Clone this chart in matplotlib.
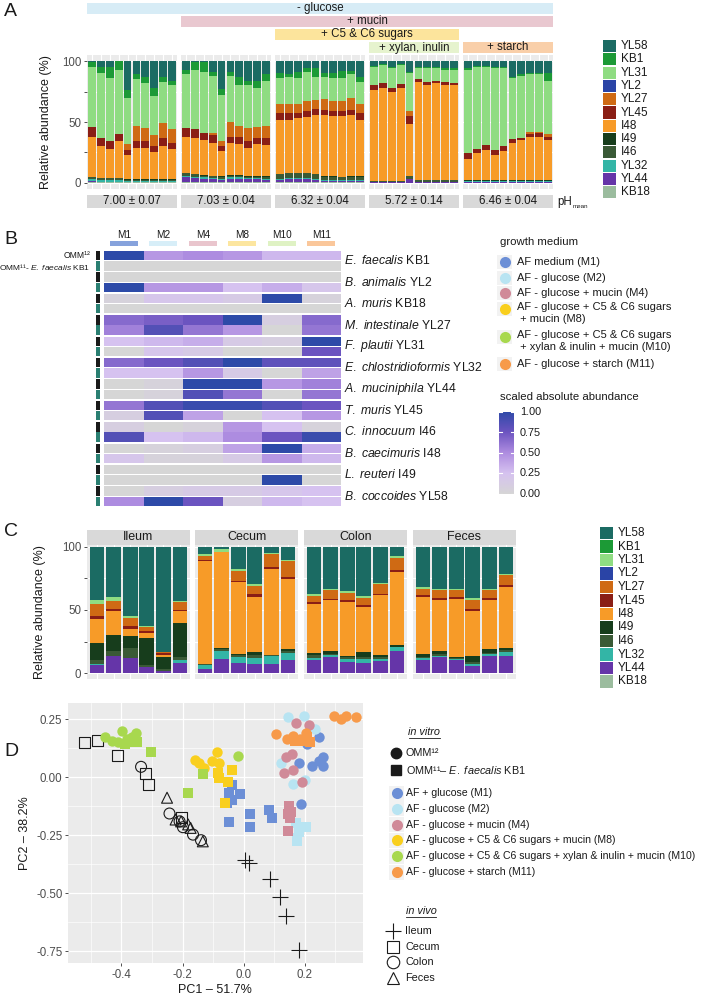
import numpy as np
import matplotlib
matplotlib.use('Agg')
import matplotlib.pyplot as plt
from matplotlib.patches import Rectangle
from matplotlib.colors import LinearSegmentedColormap

plt.rcParams['font.family'] = ['Liberation Sans', 'DejaVu Sans']
plt.rcParams['mathtext.fontset'] = 'custom'
plt.rcParams['mathtext.it'] = 'Liberation Sans:italic'
plt.rcParams['mathtext.rm'] = 'Liberation Sans'

# ---------------- data ----------------
species_colors = {
    'YL58': '#1B6B63', 'KB1': '#1C9A36', 'YL31': '#8FDC82', 'YL2': '#2A44A6',
    'YL27': '#CF6A14', 'YL45': '#8A1E15', 'I48': '#F79B28', 'I49': '#173D1C',
    'I46': '#3A5A36', 'YL32': '#33B5A6', 'YL44': '#6535A8', 'KB18': '#9BBC9E',
}
stack_order = ['KB18', 'YL44', 'YL32', 'I46', 'I49', 'I48', 'YL45', 'YL27',
               'YL2', 'YL31', 'KB1', 'YL58']
legend_order = stack_order[::-1]

# panel A: cumulative top (%) of each layer, 5 media x 10 replicates
A_KB18 = [0.5] * 30 + [0.3] * 20
A_YL44 = ([1.2, 1, 1, 1, 0.8, 0.8, 0.8, 0.8, 0.8, 0.8] +
          [4.5, 4, 3.5, 3, 2.5, 3.5, 3.5, 3, 3, 2.5] +
          [2, 3, 3, 3, 2.5, 1.5, 1.5, 1.5, 1.5, 1.5] +
          [0.5, 0.5, 0.5, 0.5, 3, 0.8, 0.8, 0.8, 0.8, 0.8] +
          [0.8] * 10)
A_YL32 = ([3, 2.5, 2.5, 2.5, 1.5, 1.5, 1.5, 1.5, 1.5, 1.5] +
          [5.5, 5, 4.5, 4, 3.5, 4.5, 4.5, 4, 4, 3.5] +
          [3.5, 4, 4, 4, 3.5, 2, 2, 2, 2, 2] +
          [1, 1, 1, 1, 3.5, 1, 1, 1, 1, 1] +
          [1.2] * 10)
A_I46 = ([4.5, 4, 4, 4, 2.5, 2.5, 2.5, 2.5, 2.5, 2.5] +
         [8, 7, 6, 5.5, 5, 6, 6, 5, 5, 5] +
         [7, 8, 8, 8, 7, 5, 5, 4.5, 5, 5] +
         [1.5, 1.5, 1.5, 1.5, 5.5, 2, 2, 2, 2, 2] +
         [1.8] * 10)
A_I49 = ([4.8, 4.3, 4.3, 4.3, 2.8, 2.8, 2.8, 2.8, 2.8, 2.8] +
         [8.3, 7.3, 6.3, 5.8, 5.3, 6.3, 6.3, 5.3, 5.3, 5.3] +
         [7.3, 8.3, 8.3, 8.3, 7.3, 5.3, 5.3, 4.8, 5.3, 5.3] +
         [1.8, 1.8, 1.8, 1.8, 5.8, 2.3, 2.3, 2.3, 2.3, 2.3] +
         [2.1] * 10)
A_I48 = ([38, 30, 28, 34, 23, 29, 29, 25, 30, 28] +
         [38, 37, 35, 33, 26, 33, 32, 29, 32, 31] +
         [52, 52, 53, 54.5, 56, 56, 55, 55, 56, 52] +
         [76, 78, 75, 78, 48, 83, 80, 82, 80, 80] +
         [20, 24.5, 27, 23, 26, 33, 35, 38, 38, 35])
A_YL45 = ([46, 37, 34, 40, 27, 34, 34, 30, 37, 33] +
          [45, 44, 41, 39, 30, 38, 38, 34, 37, 37] +
          [57, 57, 57, 59, 61, 60, 59, 59, 60, 57] +
          [80, 82, 78, 81, 55, 85, 83, 84, 83, 82] +
          [24.5, 28, 31, 27, 30, 36, 37, 40, 41, 38])
A_YL27 = ([46, 37, 34, 40, 32, 47, 45, 39, 49, 44] +
          [45, 44, 41, 41, 34, 50, 47, 45, 46, 47] +
          [65, 65, 65, 67, 68, 69, 67, 67, 69.5, 65] +
          [80, 82, 78, 81, 59, 85, 83, 84, 83, 82] +
          [24.5, 28, 31, 27, 30, 36, 37, 42, 42, 40])
A_YL2 = A_YL27
A_YL31 = ([95, 90, 86, 93, 70, 85, 82, 71, 83, 80] +
          [89, 93, 91, 88, 72, 88, 80, 80, 78, 84] +
          [86, 87, 86, 91, 87, 87, 86, 86, 89, 83] +
          [95, 97, 94, 97, 90, 94, 94, 94, 93, 93] +
          [93, 95, 95, 94, 94, 86, 88, 89, 89, 84])
A_KB1 = ([99, 95, 95, 100, 76, 89, 87, 78, 87, 84] +
         [93, 99, 99, 91, 77, 91, 87, 84, 84, 89] +
         [90, 89, 91, 94, 94, 90, 90, 92, 92, 87] +
         [96, 98, 95, 98, 91, 95, 95, 95, 94, 94] +
         [94, 96, 96, 95, 95, 87, 89, 90, 90, 90])
A_YL58 = [100] * 50
ph_labels = ['7.00 ± 0.07', '7.03 ± 0.04', '6.32 ± 0.04', '5.72 ± 0.14', '6.46 ± 0.04']

# panel C: cumulative tops, 4 sites x 6 mice
C_YL44 = [6.5, 13.5, 11.7, 4.7, 1.3, 8.3, 3.4, 11, 8.3, 7.3, 7.3, 10,
          10, 13, 9, 8.3, 9.6, 17.7, 10, 13, 10, 5.7, 13.5, 13.8]
C_YL32 = [7.3, 13.8, 12, 5, 1.5, 10, 6.5, 17.7, 13, 11.7, 13.5, 16,
          11.7, 14, 11, 11, 11, 20.3, 11.7, 13.5, 11, 7.3, 14.8, 17]
C_I46 = [10, 17.7, 20, 6.5, 3, 12.5, 7.3, 18.7, 14.3, 14.3, 14, 17.7,
         14.3, 15, 12.5, 12.5, 12.5, 21, 13, 14.8, 12.2, 9, 16, 18]
C_I49 = [24, 30, 29, 28, 13, 40, 7.5, 19.5, 15, 16.4, 14.5, 18.7,
         15.6, 17.7, 13.8, 16.4, 14.3, 22.6, 14.8, 17.7, 13, 13.5, 18.7, 20]
C_I48 = [43, 49, 35, 31.7, 14.3, 49, 89, 96, 72, 60.5, 82.6, 74.8,
         55, 57.7, 56.6, 52.5, 61.8, 80, 60.3, 58, 59, 49.4, 58, 68.3]
C_YL45 = [45, 51, 37.7, 33, 15.6, 50, 90, 96, 73, 62.3, 84.4, 76,
          56.6, 59, 58, 53.8, 62.9, 81.6, 61.6, 59.2, 60.3, 50.6, 59.2, 69.6]
C_YL27 = [55, 57, 44, 36.4, 16.6, 56, 93, 96, 80.5, 69, 94, 88.5,
          61, 65.5, 63.6, 59.7, 70.6, 91, 67, 65.7, 65.7, 57.7, 66.2, 77.4]
C_YL31 = [58, 60, 45.5, 37, 16.6, 57.5, 94, 98, 82.6, 70.6, 95, 90,
          62.3, 66.5, 65, 61, 71.7, 93, 68.6, 67, 67, 59.2, 67, 78.7]
C_KB18 = [0] * 24
C_YL2 = C_YL27
C_KB1 = C_YL31
C_YL58 = [100] * 24
sites = ['Ileum', 'Cecum', 'Colon', 'Feces']

# panel B: scaled absolute abundance, rows = species, cols = media
media = ['M1', 'M2', 'M4', 'M8', 'M10', 'M11']
species_labels = [r'$\mathit{E.\ faecalis}$ KB1', r'$\mathit{B.\ animalis}$ YL2',
                  r'$\mathit{A.\ muris}$ KB18', r'$\mathit{M.\ intestinale}$ YL27',
                  r'$\mathit{F.\ plautii}$ YL31', r'$\mathit{E.\ chlostridioformis}$ YL32',
                  r'$\mathit{A.\ muciniphila}$ YL44', r'$\mathit{T.\ muris}$ YL45',
                  r'$\mathit{C.\ innocuum}$ I46', r'$\mathit{B.\ caecimuris}$ I48',
                  r'$\mathit{L.\ reuteri}$ I49', r'$\mathit{B.\ coccoides}$ YL58']
omm12 = [[1.0, 0.45, 0.5, 0.45, 0.3, 0.3],
         [0, 0, 0, 0, 0, 0],
         [0.05, 0.2, 0.2, 0.15, 1.0, 0.05],
         [0.65, 0.7, 0.75, 1.0, 0.1, 0.65],
         [0.25, 0.3, 0.35, 0.15, 0.1, 1.0],
         [0.65, 0.75, 0.85, 1.0, 0.8, 0.8],
         [0.0, 0.05, 1.0, 1.0, 0.45, 0.55],
         [0.6, 0.85, 0.95, 0.95, 0.85, 0.75],
         [0.1, 0.0, 0.05, 0.45, 0.25, 0.05],
         [0.0, 0.05, 0.1, 0.4, 1.0, 0.35],
         [0, 0, 0, 0, 0, 0],
         [0.0, 0.1, 0.15, 0.15, 0.2, 0.25]]
omm11 = [[0, 0, 0, 0, 0, 0],
         [1.0, 0.45, 0.45, 0.25, 0.35, 0.2],
         [0, 0, 0, 0, 0, 0],
         [0.55, 0.85, 0.6, 0.45, 0.0, 0.6],
         [0.0, 0.2, 0.15, 0.0, 0.0, 0.75],
         [0.25, 0.25, 0.45, 0.15, 0.0, 0.4],
         [0.0, 0.05, 0.85, 0.6, 0.0, 0.6],
         [0.1, 0.85, 0.4, 0.0, 0.25, 0.45],
         [0.85, 0.25, 0.3, 0.5, 0.75, 0.95],
         [0.2, 0.05, 0.05, 0.15, 0.45, 0.3],
         [0, 0, 0, 0, 1.0, 0],
         [0.5, 1.0, 0.75, 0.1, 0.3, 0.25]]
medium_colors = ['#6C8FD6', '#B8E4F2', '#D08A98', '#F9CF1E', '#A8D84E', '#F79A4A']
header_colors = ['#86A2DC', '#D7EEF8', '#E9C5CD', '#FCE6A0', '#DFF2C4', '#FAC79B']

# panel D: PCA coordinates (PC1, PC2)
m1_omm12 = [(0.246, 0.175), (0.207, 0.143), (0.181, 0.063), (0.223, 0.049),
            (0.246, 0.071), (0.26, 0.088), (0.26, 0.049), (0.187, -0.117)]
m1_omm11 = [(-0.038, -0.033), (-0.049, -0.066), (-0.013, -0.074), (-0.038, -0.1),
            (-0.054, -0.11), (-0.049, -0.192), (0.02, -0.16), (0.021, -0.215),
            (0.082, -0.139), (0.092, -0.177)]
m2_omm12 = [(0.146, 0.258), (0.198, 0.266), (0.234, 0.208), (0.121, 0.061),
            (0.162, -0.03), (0.201, -0.013)]
m2_omm11 = [(0.171, -0.196), (0.204, -0.215), (0.173, -0.261), (0.18, -0.235), (0.173, -0.276)]
m4_omm12 = [(0.171, 0.232), (0.212, 0.225), (0.138, 0.088), (0.157, 0.1),
            (0.131, 0.02), (0.162, 0.03), (0.19, -0.019)]
m4_omm11 = [(0.149, -0.124), (0.146, -0.16), (0.151, -0.177), (0.146, -0.232), (0.155, -0.15)]
m8_omm12 = [(-0.158, 0.074), (-0.147, 0.063), (-0.129, 0.039), (-0.104, 0.071),
            (-0.088, 0.111), (-0.082, 0.063)]
m8_omm11 = [(-0.084, 0.02), (-0.082, -0.001), (-0.04, 0.03), (-0.051, -0.019), (-0.06, -0.11)]
m10_omm12 = [(-0.454, 0.172), (-0.432, 0.157), (-0.399, 0.201), (-0.41, 0.15),
             (-0.382, 0.165), (-0.366, 0.172), (-0.354, 0.189), (-0.019, 0.091)]
m10_omm11 = [(-0.388, 0.143), (-0.371, 0.15), (-0.349, 0.15), (-0.302, 0.111),
             (-0.132, 0.013), (-0.184, -0.069)]
m11_omm12 = [(0.107, 0.186), (0.14, 0.165), (0.162, 0.179), (0.184, 0.165), (0.204, 0.189),
             (0.296, 0.266), (0.318, 0.251), (0.334, 0.266), (0.368, 0.261)]
m11_omm11 = [(0.184, 0.157), (0.207, 0.172), (0.218, 0.15), (0.168, 0.157)]
ileum = [(0.004, -0.355), (0.018, -0.369), (0.087, -0.439), (0.118, -0.514),
         (0.138, -0.596), (0.18, -0.745)]
cecum = [(-0.521, 0.15), (-0.477, 0.157), (-0.413, 0.095), (-0.321, 0.017),
         (-0.312, -0.03), (-0.204, -0.172)]
colon = [(-0.336, 0.045), (-0.243, -0.156), (-0.21, -0.19), (-0.199, -0.215),
         (-0.166, -0.247), (-0.14, -0.271)]
feces = [(-0.251, -0.088), (-0.223, -0.182), (-0.205, -0.19), (-0.182, -0.203),
         (-0.174, -0.218), (-0.134, -0.276)]

# ---------------- figure ----------------
W, H = 712, 999
fig = plt.figure(figsize=(W / 100, H / 100), dpi=100)
ov = fig.add_axes([0, 0, 1, 1])
ov.set_xlim(0, W)
ov.set_ylim(H, 0)
ov.axis('off')
TXT = '#1A1A1A'


def px_axes(x0, y0, x1, y1):
    return fig.add_axes([x0 / W, 1 - y1 / H, (x1 - x0) / W, (y1 - y0) / H])


def rect(x0, y0, x1, y1, color):
    ov.add_patch(Rectangle((x0, y0), x1 - x0, y1 - y0, facecolor=color, edgecolor='none'))


def txt(x, y, s, **kw):
    kw.setdefault('color', TXT)
    kw.setdefault('va', 'center')
    ov.text(x, y, s, **kw)


def strip(x0, y0, x1, y1, color, label, size=8):
    rect(x0, y0, x1, y1, color)
    txt((x0 + x1) / 2, (y0 + y1) / 2, label, ha='center', fontsize=size)


def gg_style(ax):
    ax.set_facecolor('#EBEBEB')
    for s in ax.spines.values():
        s.set_visible(False)
    ax.tick_params(colors='#333333', labelcolor='#4D4D4D', labelsize=8.3,
                   length=2.5, width=0.6, pad=1.5)
    ax.set_axisbelow(True)


def stacked(ax, tops, n):
    x = np.arange(1, n + 1)
    bottom = np.zeros(n)
    for sp in stack_order:
        top = np.asarray(tops[sp], dtype=float)
        ax.bar(x, top - bottom, bottom=bottom, width=0.88,
               color=species_colors[sp], linewidth=0)
        bottom = top
    ax.set_xlim(0.4, n + 0.6)
    ax.set_xticks(x)
    ax.tick_params(axis='x', length=0, labelbottom=False)
    ax.grid(True, axis='both', color='white', linewidth=0.8)


def legend_species(x0, y0, step):
    for i, sp in enumerate(legend_order):
        yc = y0 + i * step
        rect(x0, yc - step / 2 + 0.6, x0 + 13, yc + step / 2 - 0.6, species_colors[sp])
        txt(x0 + 18, yc, sp, fontsize=8.5)


# ----- panel A -----
txt(4, 12, 'A', fontsize=14)
a_left = [87, 181, 275, 369, 463]
a_w = 90
a_tops = {'KB18': A_KB18, 'YL44': A_YL44, 'YL32': A_YL32, 'I46': A_I46, 'I49': A_I49,
          'I48': A_I48, 'YL45': A_YL45, 'YL27': A_YL27, 'YL2': A_YL2, 'YL31': A_YL31,
          'KB1': A_KB1, 'YL58': A_YL58}
for g in range(5):
    ax = px_axes(a_left[g], 55, a_left[g] + a_w, 189)
    gg_style(ax)
    stacked(ax, {k: v[g * 10:(g + 1) * 10] for k, v in a_tops.items()}, 10)
    ax.set_ylim(-5, 105)
    ax.set_yticks([0, 25, 50, 75, 100])
    if g == 0:
        ax.set_yticklabels(['0', '', '50', '', '100'])
    else:
        ax.tick_params(axis='y', length=0, labelleft=False)
    strip(a_left[g], 195, a_left[g] + a_w, 208, '#D9D9D9', ph_labels[g], 8.3)
txt(46, 122, 'Relative abundance (%)', rotation=90, ha='center', fontsize=9)
txt(557, 202, 'pH', fontsize=8.3)
txt(573, 207, 'mean', fontsize=4.5)
a_end = a_left[4] + a_w
strip(a_left[0], 3, a_end, 14, '#D7ECF6', '- glucose', 8.3)
strip(a_left[1], 16, a_end, 27, '#E9C8D0', '+ mucin', 8.3)
strip(a_left[2], 29, a_left[3] + a_w, 40, '#FCE49C', '+ C5 & C6 sugars', 8.3)
strip(a_left[3], 42, a_left[3] + a_w, 53, '#E6F3CE', '+ xylan, inulin', 8.3)
strip(a_left[4], 42, a_end, 53, '#F9CFA9', '+ starch', 8.3)
legend_species(603, 46, 13.3)

# ----- panel B -----
txt(4, 240, 'B', fontsize=14)
hx0, hx1, hy0, hy1 = 104, 341, 251, 506
axh = px_axes(hx0, hy0, hx1, hy1)
cmap = LinearSegmentedColormap.from_list(
    'abund', [(0, '#D6D6D6'), (0.25, '#D6C2F0'), (0.5, '#AE8CE0'),
              (0.75, '#6C54C0'), (1, '#2D4AA8')])
for i in range(12):
    for j, row in enumerate([omm12[i], omm11[i]]):
        y0 = i + j * 0.48
        axh.pcolormesh(np.arange(7), [y0, y0 + 0.44], np.array([row]),
                       cmap=cmap, vmin=0, vmax=1)
    axh.text(6.07, i + 0.46, species_labels[i], va='center', fontsize=8.8,
             color=TXT, clip_on=False)
axh.set_xlim(0, 6)
axh.set_ylim(11.92, 0)
axh.axis('off')

axs = px_axes(96, hy0, 100, hy1)
for i in range(12):
    axs.add_patch(Rectangle((0, i), 1, 0.44, facecolor='#1A1A1A', edgecolor='none'))
    axs.add_patch(Rectangle((0, i + 0.48), 1, 0.44, facecolor='#2A7F72', edgecolor='none'))
axs.set_xlim(0, 1)
axs.set_ylim(11.92, 0)
axs.axis('off')

cw = (hx1 - hx0) / 6
for j, m in enumerate(media):
    xc = hx0 + (j + 0.5) * cw
    txt(xc, 235, m, ha='center', fontsize=7.2)
    rect(xc - 14, 241, xc + 14, 246, header_colors[j])
txt(90, 255, 'OMM¹²', ha='right', fontsize=6.2)
txt(90, 267, r'OMM¹¹- $\mathit{E.\ faecalis}$ KB1', ha='right', fontsize=6.0)

# growth medium legend
txt(500, 242, 'growth medium', fontsize=8.2)
gm_labels = ['AF medium (M1)', 'AF - glucose (M2)', 'AF - glucose + mucin (M4)',
             'AF - glucose + C5 & C6 sugars\n + mucin (M8)',
             'AF - glucose + C5 & C6 sugars\n + xylan & inulin + mucin (M10)',
             'AF - glucose + starch (M11)']
gm_y = [262, 278, 293, 309, 337, 364]
for lab, col, y in zip(gm_labels, medium_colors, gm_y):
    rect(497, y - 7, 512, y + 7, '#F2F2F2')
    ov.plot(504.5, y, 'o', ms=8, color=col, mec='none')
    if '\n' in lab:
        txt(517, y - 6.5, lab, fontsize=8, va='top', linespacing=1.15)
    else:
        txt(517, y, lab, fontsize=8)

txt(500, 397, 'scaled absolute abundance', fontsize=8.2)
axc = px_axes(499, 412, 514, 494)
axc.imshow(np.linspace(0, 1, 256)[:, None], aspect='auto', cmap=cmap,
           origin='lower', extent=[0, 1, 0, 1])
for t in [0.0, 0.25, 0.5, 0.75, 1.0]:
    axc.plot([0, 0.2], [t, t], color='white', lw=0.8)
    axc.plot([0.8, 1], [t, t], color='white', lw=0.8)
    txt(520, 494 - t * 82, f'{t:.2f}', fontsize=7.8)
axc.set_xlim(0, 1)
axc.set_ylim(0, 1)
axc.axis('off')

# ----- panel C -----
txt(4, 531, 'C', fontsize=14)
c_left = [87, 195, 304, 413]
c_w = 103
c_tops = {'KB18': C_KB18, 'YL44': C_YL44, 'YL32': C_YL32, 'I46': C_I46, 'I49': C_I49,
          'I48': C_I48, 'YL45': C_YL45, 'YL27': C_YL27, 'YL2': C_YL2, 'YL31': C_YL31,
          'KB1': C_KB1, 'YL58': C_YL58}
for g in range(4):
    ax = px_axes(c_left[g], 545, c_left[g] + c_w, 679)
    gg_style(ax)
    stacked(ax, {k: v[g * 6:(g + 1) * 6] for k, v in c_tops.items()}, 6)
    ax.set_ylim(-4.7, 101.5)
    ax.set_yticks([0, 25, 50, 75, 100])
    if g == 0:
        ax.set_yticklabels(['0', '', '50', '', '100'])
    else:
        ax.tick_params(axis='y', length=0, labelleft=False)
    strip(c_left[g], 530, c_left[g] + c_w, 545, '#D9D9D9', sites[g], 9)
txt(40, 612, 'Relative abundance (%)', rotation=90, ha='center', fontsize=9)
legend_species(600, 533, 13.5)

# ----- panel D -----
txt(4, 752, 'D', fontsize=14)
axd = px_axes(68, 703, 363, 963)
gg_style(axd)
axd.set_xlim(-0.575, 0.39)
axd.set_ylim(-0.80, 0.32)
axd.set_xticks([-0.4, -0.2, 0.0, 0.2])
axd.set_xticklabels(['-0.4', '-0.2', '0.0', '0.2'])
axd.set_yticks([-0.75, -0.5, -0.25, 0.0, 0.25])
axd.set_yticklabels(['-0.75', '-0.50', '-0.25', '0.00', '0.25'])
axd.set_xticks([-0.5, -0.3, -0.1, 0.1, 0.3], minor=True)
axd.set_yticks([-0.625, -0.375, -0.125, 0.125], minor=True)
axd.tick_params(which='minor', length=0)
axd.grid(True, which='major', color='white', linewidth=0.9)
axd.grid(True, which='minor', color='white', linewidth=0.45)

for pts, mk in [(ileum, '+'), (cecum, 's'), (colon, 'o'), (feces, '^')]:
    xs, ys = zip(*pts)
    if mk == '+':
        axd.scatter(xs, ys, marker='+', s=130, color='#1A1A1A', linewidths=0.8, zorder=3)
    else:
        axd.scatter(xs, ys, marker=mk, s=62, facecolors='none', edgecolors='#1A1A1A',
                    linewidths=0.8, zorder=3)
vitro = [(m1_omm12, m1_omm11), (m2_omm12, m2_omm11), (m4_omm12, m4_omm11),
         (m8_omm12, m8_omm11), (m10_omm12, m10_omm11), (m11_omm12, m11_omm11)]
for (c12, c11), col in zip(vitro, medium_colors):
    xs, ys = zip(*c11)
    axd.scatter(xs, ys, marker='s', s=48, color=col, linewidths=0, zorder=4)
    xs, ys = zip(*c12)
    axd.scatter(xs, ys, marker='o', s=56, color=col, linewidths=0, zorder=4)
txt(215, 990, 'PC1 – 51.7%', ha='center', fontsize=9)
txt(25, 833, 'PC2 – 38.2%', ha='center', rotation=90, fontsize=9)

# panel D legend
txt(424, 732, 'in vitro', ha='center', fontsize=7.8, style='italic')
ov.plot([409, 440], [737.5, 737.5], color=TXT, lw=0.6)
ov.plot(396, 753, 'o', ms=7.5, color=TXT)
txt(406, 753, 'OMM¹²', fontsize=7.8)
ov.plot(396, 770, 's', ms=7, color=TXT)
txt(406, 770, r'OMM¹¹– $\mathit{E.\ faecalis}$ KB1', fontsize=7.8)
d_labels = ['AF + glucose (M1)', 'AF - glucose (M2)', 'AF - glucose + mucin (M4)',
            'AF - glucose + C5 & C6 sugars + mucin (M8)',
            'AF - glucose + C5 & C6 sugars + xylan & inulin + mucin (M10)',
            'AF - glucose + starch (M11)']
for i, (lab, col) in enumerate(zip(d_labels, medium_colors)):
    y = 793 + i * 15.8
    rect(389, y - 7.5, 404, y + 7.5, '#F2F2F2')
    ov.plot(396.5, y, 'o', ms=8, color=col, mec='none')
    txt(406, y, lab, fontsize=7.6)
txt(421, 911, 'in vivo', ha='center', fontsize=7.8, style='italic')
ov.plot([406, 436], [916.5, 916.5], color=TXT, lw=0.6)
for i, (lab, mk) in enumerate(zip(sites, ['+', 's', 'o', '^'])):
    y = 931 + i * 15.7
    if mk == '+':
        ov.plot(393, y, mk, ms=12, color=TXT, mew=0.8)
    else:
        ov.plot(393, y, mk, ms=9, mfc='none', mec=TXT, mew=0.8)
    txt(405, y, lab, fontsize=7.8)

fig.savefig('out.png', dpi=100)
